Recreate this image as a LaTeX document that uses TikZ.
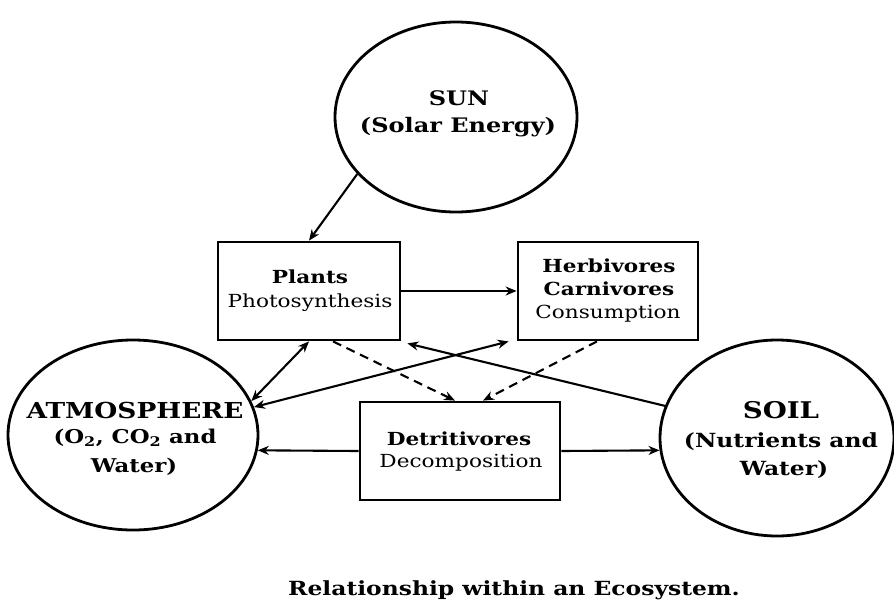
\documentclass[tikz,border=0pt]{standalone}
\usepackage{fontspec}
\setmainfont{DejaVu Serif}[FakeStretch=1.2]
\usetikzlibrary{shapes.geometric,arrows.meta,calc}
\tikzset{
  shapeline/.style={draw=black, line width=2.8pt},
  oval/.style={shapeline, ellipse, inner sep=0pt},
  boxnode/.style={shapeline, rectangle, inner sep=0pt, minimum width=#1, minimum height=98pt},
  txt/.style={anchor=base, inner sep=0pt, text=black},
  arr/.style={line width=2.1pt, -{Stealth[length=11pt,width=9pt]}},
  darr/.style={line width=2.1pt, {Stealth[length=11pt,width=9pt]}-{Stealth[length=11pt,width=9pt]}},
  dasharr/.style={arr, dash pattern=on 9pt off 6pt},
}
\begin{document}
\begin{tikzpicture}[x=1pt,y=-1pt]
\useasboundingbox[fill=white] (0,0) rectangle (894,603);
% ellipses
\node[oval, minimum width=242pt, minimum height=190pt] (sun) at (456,117) {};
\node[oval, minimum width=250pt, minimum height=190pt] (atm) at (133,435) {};
\node[oval, minimum width=234pt, minimum height=196pt] (soil) at (777,438) {};
% boxes
\node[boxnode=182pt] (plants) at (309,291) {};
\node[boxnode=180pt] (herb) at (608,291) {};
\node[boxnode=200pt] (det) at (460,451) {};
% texts
\node[txt, font=\fontsize{20}{24}\selectfont\bfseries] (sunA) at (459,105) {SUN};
\node[txt, font=\fontsize{20}{24}\selectfont\bfseries] (sunB) at (458,132) {(Solar Energy)};
\node[txt, font=\fontsize{22}{26}\selectfont\bfseries] (atmA) at (135,418) {ATMOSPHERE};
\node[txt, font=\fontsize{19}{23}\selectfont\bfseries] (atmB) at (135,443) {(O\textsubscript{2}, CO\textsubscript{2} and};
\node[txt, font=\fontsize{19}{23}\selectfont\bfseries] (atmC) at (134,472) {Water)};
\node[txt, font=\fontsize{23}{27}\selectfont\bfseries] (soilA) at (781,418) {SOIL};
\node[txt, font=\fontsize{19.5}{23}\selectfont\bfseries] (soilB) at (781,447) {(Nutrients and};
\node[txt, font=\fontsize{19.5}{23}\selectfont\bfseries] (soilC) at (784,475) {Water)};
\node[txt, font=\fontsize{18}{22}\selectfont\bfseries] (plA) at (310,283) {Plants};
\node[txt, font=\fontsize{18}{22}\selectfont] (plB) at (310,307) {Photosynthesis};
\node[txt, font=\fontsize{18}{22}\selectfont\bfseries] (hbA) at (609,272) {Herbivores};
\node[txt, font=\fontsize{18}{22}\selectfont\bfseries] (hbB) at (609,295) {Carnivores};
\node[txt, font=\fontsize{18}{22}\selectfont] (hbC) at (608,318) {Consumption};
\node[txt, font=\fontsize{18}{22}\selectfont\bfseries] (dtA) at (459,445) {Detritivores};
\node[txt, font=\fontsize{18}{22}\selectfont] (dtB) at (461,467) {Decomposition};
\node[txt, font=\fontsize{19.5}{23}\selectfont\bfseries] (caption) at (514,595) {Relationship within an Ecosystem.};
% connectors
\draw[arr] (sun.210) -- (plants.north);
\draw[arr] (plants.east) -- (herb.west);
\draw[darr] (plants.south) -- (atm.16);
\draw[darr] ($(herb.south west)+(-8,0)$) -- (atm.13);
\draw[arr] (soil.164) -- ($(plants.south east)+(6,2)$);
\draw[dasharr] ($(plants.south)+(24,0)$) -- ($(det.north)+(-5,0)$);
\draw[dasharr] ($(herb.south)+(-11,0)$) -- ($(det.north)+(23,0)$);
\draw[arr] (det.west) -- (atm.-7);
\draw[arr] (det.east) -- (soil.186);
\end{tikzpicture}
\end{document}
